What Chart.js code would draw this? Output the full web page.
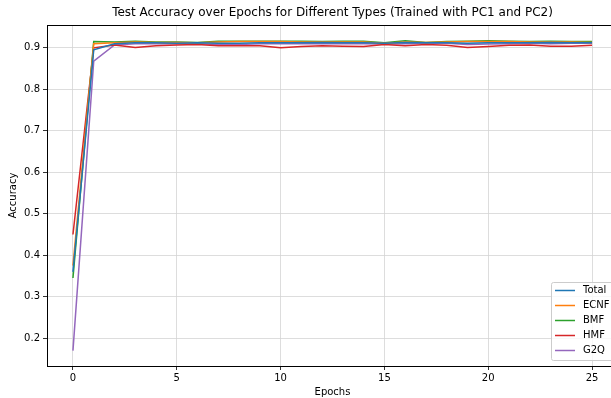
<!DOCTYPE html>
<html>
<head>
<meta charset="utf-8">
<script src="https://cdn.jsdelivr.net/npm/chart.js@4"></script>
<style>
  html, body { margin: 0; padding: 0; background: #fff; overflow: hidden; }
  #wrap { width: 640px; height: 398px; }
</style>
</head>
<body>
<div id="wrap"><canvas id="chart" width="640" height="398"></canvas></div>
<script>
// Values
const epochs = [0,1,2,3,4,5,6,7,8,9,10,11,12,13,14,15,16,17,18,19,20,21,22,23,24,25];
const seriesNames = ['Total', 'ECNF', 'BMF', 'HMF', 'G2Q'];
const seriesColors = ['#1f77b4', '#ff7f0e', '#2ca02c', '#d62728', '#9467bd'];

const totalAcc = [0.36, 0.895, 0.910, 0.912, 0.912, 0.911, 0.912, 0.911, 0.911, 0.912, 0.912, 0.912, 0.913, 0.912, 0.912, 0.911, 0.913, 0.912, 0.912, 0.911, 0.912, 0.912, 0.912, 0.913, 0.912, 0.912];
const ecnfAcc  = [0.375, 0.910, 0.912, 0.914, 0.913, 0.913, 0.912, 0.914, 0.915, 0.915, 0.915, 0.914, 0.914, 0.914, 0.914, 0.911, 0.914, 0.913, 0.914, 0.915, 0.915, 0.915, 0.914, 0.914, 0.914, 0.913];
const bmfAcc   = [0.345, 0.915, 0.914, 0.916, 0.914, 0.914, 0.913, 0.916, 0.916, 0.916, 0.916, 0.916, 0.915, 0.916, 0.916, 0.912, 0.917, 0.913, 0.915, 0.916, 0.917, 0.916, 0.915, 0.916, 0.915, 0.915];
const hmfAcc   = [0.45, 0.900, 0.907, 0.901, 0.905, 0.907, 0.908, 0.905, 0.905, 0.905, 0.900, 0.903, 0.905, 0.904, 0.903, 0.908, 0.905, 0.908, 0.906, 0.901, 0.903, 0.906, 0.907, 0.904, 0.904, 0.906];
const g2qAcc   = [0.17, 0.868, 0.907, 0.910, 0.910, 0.910, 0.910, 0.908, 0.908, 0.910, 0.910, 0.910, 0.910, 0.910, 0.910, 0.909, 0.910, 0.911, 0.911, 0.908, 0.909, 0.910, 0.911, 0.910, 0.911, 0.911];

const allSeries = [totalAcc, ecnfAcc, bmfAcc, hmfAcc, g2qAcc];

const FONT = 'DejaVu Sans';
const TITLE = 'Test Accuracy over Epochs for Different Types (Trained with PC1 and PC2)';

// Build the datasets from the arrays above
const datasets = seriesNames.map((name, i) => ({
    label: name,
    data: epochs.map((e, j) => ({ x: e, y: allSeries[i][j] })),
    borderColor: seriesColors[i],
    backgroundColor: seriesColors[i],
    borderWidth: 1.5,
    pointRadius: 0,
    tension: 0,
    fill: false
}));

// Draws the title over the plot area, the top/right frame and the legend box
const framePlugin = {
    id: 'frame',
    afterDraw(chart) {
        const { ctx, chartArea } = chart;
        ctx.save();
        ctx.strokeStyle = '#000';
        ctx.lineWidth = 1;
        ctx.strokeRect(chartArea.left + 0.5, chartArea.top + 0.5,
            chartArea.right - chartArea.left, chartArea.bottom - chartArea.top);

        // title, centred on the axes like matplotlib
        ctx.fillStyle = '#000';
        ctx.font = '12px ' + FONT;
        ctx.textAlign = 'center';
        ctx.textBaseline = 'middle';
        ctx.fillText(TITLE, (chartArea.left + chartArea.right) / 2, 13);

        // legend
        const bx = 551, by = 282, bw = 80, bh = 78;
        ctx.fillStyle = 'rgba(255,255,255,0.8)';
        ctx.strokeStyle = '#cccccc';
        ctx.beginPath();
        ctx.roundRect(bx + 0.5, by + 0.5, bw, bh, 2);
        ctx.fill();
        ctx.stroke();
        ctx.font = '10px ' + FONT;
        ctx.textBaseline = 'middle';
        ctx.textAlign = 'left';
        seriesNames.forEach((name, i) => {
            const y = by + 8.5 + i * 15;
            ctx.strokeStyle = seriesColors[i];
            ctx.lineWidth = 1.5;
            ctx.beginPath();
            ctx.moveTo(bx + 4, y);
            ctx.lineTo(bx + 24, y);
            ctx.stroke();
            ctx.fillStyle = '#000';
            ctx.fillText(name, bx + 32, y);
        });
        ctx.restore();
    }
};

new Chart(document.getElementById('chart'), {
    type: 'line',
    data: { datasets: datasets },
    options: {
        responsive: false,
        animation: false,
        layout: { padding: { left: 0, right: 22, top: 25, bottom: 0 } },
        plugins: {
            legend: { display: false },
            tooltip: { enabled: false },
            title: { display: false }
        },
        scales: {
            x: {
                type: 'linear',
                min: -1.25,
                max: 26.25,
                afterFit(scale) { scale.height = 32; },
                ticks: {
                    stepSize: 5,
                    includeBounds: false,
                    color: '#000',
                    padding: 2,
                    maxRotation: 0,
                    font: { family: FONT, size: 10 },
                    callback: v => String(v)
                },
                grid: { color: '#d4d4d4', lineWidth: 0.8, tickColor: '#000', tickLength: 4 },
                border: { display: true, color: '#000', width: 1 },
                title: {
                    display: true,
                    text: 'Epochs',
                    color: '#000',
                    font: { family: FONT, size: 10 },
                    padding: { top: 0, bottom: 0 }
                }
            },
            y: {
                type: 'linear',
                min: 0.133,
                max: 0.955,
                afterFit(scale) { scale.width = 47; },
                ticks: {
                    stepSize: 0.1,
                    includeBounds: false,
                    color: '#000',
                    padding: 3,
                    font: { family: FONT, size: 10 },
                    callback: v => v.toFixed(1)
                },
                grid: { color: '#d4d4d4', lineWidth: 0.8, tickColor: '#000', tickLength: 4 },
                border: { display: true, color: '#000', width: 1 },
                title: {
                    display: true,
                    text: 'Accuracy',
                    color: '#000',
                    font: { family: FONT, size: 10 },
                    padding: { top: 7, bottom: 0 }
                }
            }
        }
    },
    plugins: [framePlugin]
});
</script>
</body>
</html>
